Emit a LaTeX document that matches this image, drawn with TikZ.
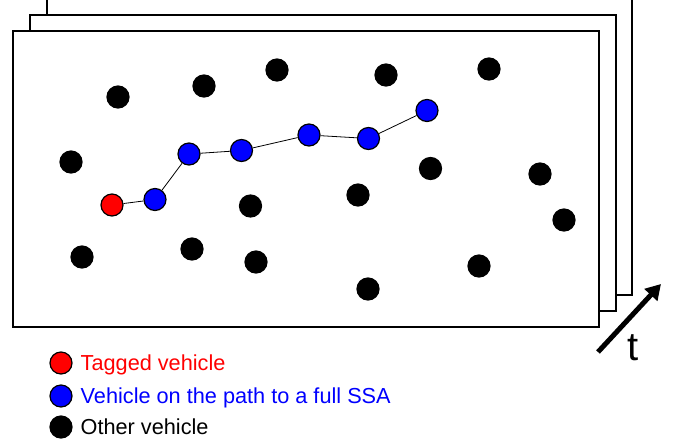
\documentclass[tikz,border=0pt]{standalone}
\usepackage{fontspec}
\setmainfont{Liberation Sans}
\usetikzlibrary{arrows.meta}
\begin{document}
\begin{tikzpicture}[x=1pt,y=-1pt,
  frame/.style={draw=black,line width=2pt,fill=white},
  veh/.style={circle,draw=black,line width=1.2pt,minimum size=22pt,inner sep=0pt},
  other/.style={veh,fill=black},
  tagged/.style={veh,fill=red},
  onpath/.style={veh,fill=blue},
  link/.style={draw=black,line width=0.8pt},
  legtext/.style={anchor=base west,inner sep=0pt,font=\fontsize{21.7}{26}\selectfont}
]
\useasboundingbox (0,0) rectangle (680,445);
% stacked frames
\draw[frame] (46.5,-5) rectangle (631.5,294.5);
\draw[frame] (29.5,15) rectangle (615.5,311);
\draw[frame] (13,31) rectangle (599,327);
% other vehicles
\node[other] (o1) at (118,97) {};
\node[other] (o2) at (204,86) {};
\node[other] (o3) at (277,70) {};
\node[other] (o4) at (386,75) {};
\node[other] (o5) at (489,69) {};
\node[other] (o6) at (71,162) {};
\node[other] (o7) at (430.5,168.5) {};
\node[other] (o8) at (540,174) {};
\node[other] (o9) at (564,220) {};
\node[other] (o10) at (250.5,206) {};
\node[other] (o11) at (358,195) {};
\node[other] (o12) at (82,257) {};
\node[other] (o13) at (192,249) {};
\node[other] (o14) at (256,262) {};
\node[other] (o15) at (368,289) {};
\node[other] (o16) at (479,266) {};
% path
\node[tagged] (r) at (112,205) {};
\node[onpath] (b1) at (155,199.5) {};
\node[onpath] (b2) at (189,154) {};
\node[onpath] (b3) at (241.5,150.5) {};
\node[onpath] (b4) at (309,135) {};
\node[onpath] (b5) at (368.5,138.5) {};
\node[onpath] (b6) at (427,110.5) {};
\draw[link] (r) -- (b1) -- (b2) -- (b3) -- (b4) -- (b5) -- (b6);
% time arrow
\coordinate (ta) at (598,352);
\coordinate (tb) at (661,284);
\draw[line width=5pt,-{Triangle[length=15pt,width=17pt]}] (ta) -- (tb);
\node[anchor=base west,inner sep=0pt,font=\fontsize{40}{44}\selectfont] (t) at (627,360.5) {t};
% legend
\node[tagged] (l1) at (61,363) {};
\node[onpath] (l2) at (61,396) {};
\node[other] (l3) at (61,427) {};
\node[legtext,text=red] (lt1) at (80.5,370.7) {Tagged vehicle};
\node[legtext,text=blue] (lt2) at (80.5,403.3) {Vehicle on the path to a full SSA};
\node[legtext,text=black] (lt3) at (80.5,434.3) {Other vehicle};
\end{tikzpicture}
\end{document}
